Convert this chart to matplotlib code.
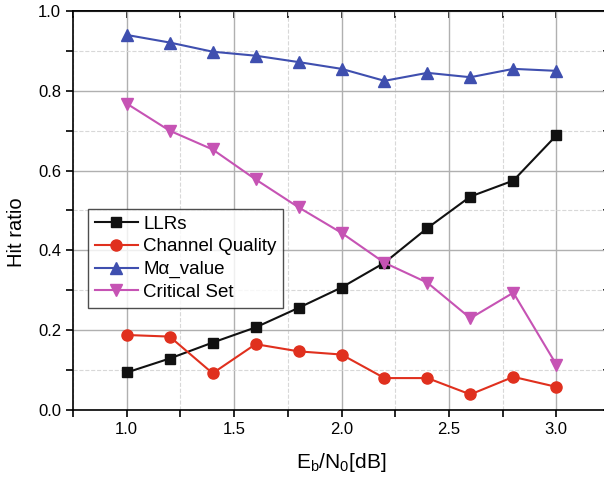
import matplotlib
matplotlib.use("Agg")
import matplotlib.pyplot as plt
from matplotlib.ticker import MultipleLocator

plt.rcParams['font.family'] = ['Liberation Sans', 'DejaVu Sans']
plt.rcParams['mathtext.fontset'] = 'custom'
plt.rcParams['mathtext.rm'] = 'Liberation Sans'

ebn0 = [1.0, 1.2, 1.4, 1.6, 1.8, 2.0, 2.2, 2.4, 2.6, 2.8, 3.0]
llrs = [0.094, 0.129, 0.169, 0.207, 0.256, 0.307, 0.369, 0.456, 0.535, 0.575, 0.688]
channel_quality = [0.188, 0.184, 0.092, 0.165, 0.147, 0.139, 0.080, 0.080, 0.039, 0.083, 0.058]
m_alpha = [0.940, 0.921, 0.898, 0.888, 0.872, 0.855, 0.825, 0.845, 0.834, 0.855, 0.850]
critical_set = [0.768, 0.700, 0.653, 0.578, 0.508, 0.444, 0.369, 0.319, 0.230, 0.294, 0.114]

series = [
    ('LLRs', llrs, '#111111', 's', 7),
    ('Channel Quality', channel_quality, '#e0301e', 'o', 8),
    ('M\u03b1_value', m_alpha, '#3f4faf', '^', 9),
    ('Critical Set', critical_set, '#c653b4', 'v', 9),
]

fig = plt.figure(figsize=(6.04, 4.78), dpi=100)
# plot box runs past the right edge of the image, like the original
ax = fig.add_axes([73/604, 1 - 410/478, (610 - 73)/604, (410 - 11)/478])

for label, vals, color, marker, ms in series:
    ax.plot(ebn0, vals, color=color, marker=marker, markersize=ms, lw=1.5, label=label)

ax.set_xlim(0.75, 3.25)
ax.set_ylim(0, 1.0)
ax.xaxis.set_major_locator(MultipleLocator(0.5))
ax.xaxis.set_minor_locator(MultipleLocator(0.25))
ax.yaxis.set_major_locator(MultipleLocator(0.2))
ax.yaxis.set_minor_locator(MultipleLocator(0.1))

ax.grid(which='major', color='#b0b0b0', lw=1.0, ls='-')
ax.grid(which='minor', color='#d8d8d8', lw=0.8, ls='--')
ax.set_axisbelow(True)

ax.tick_params(which='both', direction='out', length=5, width=1.2, labelsize=12, top=False, right=False)
# inward ticks on top and right
sec_x = ax.secondary_xaxis('top')
sec_x.xaxis.set_major_locator(MultipleLocator(0.5))
sec_x.xaxis.set_minor_locator(MultipleLocator(0.25))
sec_x.tick_params(which='both', direction='in', length=5, width=1.2, labeltop=False)
sec_y = ax.secondary_yaxis('right')
sec_y.yaxis.set_major_locator(MultipleLocator(0.2))
sec_y.yaxis.set_minor_locator(MultipleLocator(0.1))
sec_y.tick_params(which='both', direction='in', length=5, width=1.2, labelright=False)

for sp in list(ax.spines.values()) + [sec_x.spines['top'], sec_y.spines['right']]:
    sp.set_linewidth(1.2)

ax.set_xlabel(r'E$_\mathregular{b}$/N$_\mathregular{0}$[dB]', fontsize=15, labelpad=10)
ax.set_ylabel('Hit ratio', fontsize=14.5, labelpad=9, y=0.446)

leg = ax.legend(loc='upper left', bbox_to_anchor=(0.028, 0.504), borderaxespad=0,
                fontsize=13.5, frameon=True, fancybox=False, edgecolor='#222222',
                borderpad=0.35, labelspacing=0.3, handlelength=2.3, handletextpad=0.3)
leg.get_frame().set_linewidth(1.0)

fig.savefig('out.png', dpi=100)
